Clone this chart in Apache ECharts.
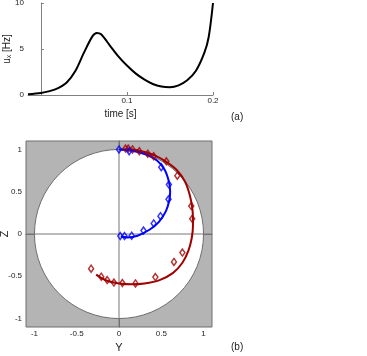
<!DOCTYPE html>
<html>
<head>
<meta charset="utf-8">
<script src="https://cdn.jsdelivr.net/npm/echarts@6/dist/echarts.min.js"></script>
<style>
  html, body { margin: 0; padding: 0; background: #fff; }
  #chart { width: 367px; height: 356px; }
</style>
</head>
<body>
<div id="chart"></div>
<script>
// panel (a): u_x over time
var timeVals = [-0.015, 0.0, 0.01, 0.02, 0.03, 0.04, 0.05, 0.06, 0.065, 0.07, 0.08, 0.09,
                0.10, 0.11, 0.12, 0.13, 0.14, 0.15, 0.16, 0.17, 0.18, 0.19, 0.195, 0.2];
var uxVals = [0.08, 0.22, 0.42, 0.75, 1.35, 2.6, 4.6, 6.4, 6.75, 6.6, 5.4, 4.2,
              3.2, 2.35, 1.7, 1.2, 0.92, 0.85, 1.05, 1.6, 2.6, 4.6, 6.3, 10.0];
var timeTicks = [0.1, 0.2];
var uxTicks = [0, 5, 10];

// panel (b): trajectories in the Y-Z plane
var blueLineY = [0, 0.16, 0.32, 0.45, 0.54, 0.59, 0.605, 0.595, 0.555, 0.47, 0.36, 0.22, 0.10, 0.02];
var blueLineZ = [1.0, 0.985, 0.94, 0.87, 0.76, 0.62, 0.50, 0.40, 0.27, 0.14, 0.05, -0.02, -0.04, -0.03];
var blueMarkY = [0, 0.12, 0.50, 0.59, 0.586, 0.49, 0.41, 0.29, 0.15, 0.065, 0.015];
var blueMarkZ = [1.0, 0.98, 0.79, 0.585, 0.41, 0.21, 0.125, 0.04, -0.02, -0.025, -0.025];

var redLineY = [0.03, 0.16, 0.28, 0.42, 0.55, 0.68, 0.78, 0.84, 0.87, 0.875, 0.86, 0.82, 0.75, 0.64,
                0.48, 0.30, 0.15, 0.0, -0.15, -0.27];
var redLineZ = [1.0, 1.0, 0.975, 0.93, 0.86, 0.76, 0.62, 0.45, 0.28, 0.10, -0.05, -0.20, -0.34, -0.46,
                -0.545, -0.585, -0.595, -0.585, -0.55, -0.48];
var redMarkY = [0.077, 0.11, 0.16, 0.24, 0.34, 0.41, 0.56, 0.69, 0.855, 0.866, 0.75, 0.65, 0.43,
                0.195, 0.04, -0.06, -0.14, -0.21, -0.33];
var redMarkZ = [1.01, 1.01, 1.0, 0.98, 0.95, 0.92, 0.86, 0.69, 0.33, 0.18, -0.22, -0.33, -0.51,
                -0.585, -0.58, -0.575, -0.545, -0.505, -0.41];
var unitTicks = [-1, -0.5, 0, 0.5, 1];

var BLUE = '#0000ff';
var RED = '#a00000';
var FONT = 'Liberation Sans';

function zip(a, b) {
    var out = [];
    for (var i = 0; i < a.length; i++) {
        out.push([a[i], b[i]]);
    }
    return out;
}

var tickLabel = { fontFamily: FONT, fontSize: 8, color: '#222' };

var chart = echarts.init(document.getElementById('chart'));
var option = {
    animation: false,
    title: [
        { text: '(a)', left: 226, top: 107, textStyle: { fontFamily: FONT, fontSize: 10, fontWeight: 'normal', color: '#222' } },
        { text: '(b)', left: 226, top: 337, textStyle: { fontFamily: FONT, fontSize: 10, fontWeight: 'normal', color: '#222' } }
    ],
    grid: [
        { left: 28, top: 3, width: 185, height: 92, outerBoundsMode: 'none', containLabel: false },
        { left: 26, top: 141, width: 186, height: 186, outerBoundsMode: 'none', containLabel: false,
          show: true, backgroundColor: '#b4b4b4', borderColor: '#6e6e6e', borderWidth: 1 }
    ],
    xAxis: [
        {
            gridIndex: 0, type: 'value', min: -0.015, max: 0.2,
            name: 'time [s]', nameLocation: 'middle', nameGap: 14, nameMoveOverlap: false,
            nameTextStyle: { fontFamily: FONT, fontSize: 10, color: '#222' },
            axisLine: { lineStyle: { color: '#808080' } },
            axisTick: { inside: true, length: 3, customValues: timeTicks, lineStyle: { color: '#808080' } },
            axisLabel: Object.assign({ margin: 2, customValues: timeTicks }, tickLabel),
            splitLine: { show: false }
        },
        {
            gridIndex: 1, type: 'value', min: -1.1, max: 1.1,
            name: 'Y', nameLocation: 'middle', nameGap: 15, nameMoveOverlap: false,
            nameTextStyle: { fontFamily: FONT, fontSize: 11, color: '#222' },
            axisLine: { lineStyle: { color: '#6e6e6e' } },
            axisTick: { inside: true, length: 3, customValues: unitTicks, lineStyle: { color: '#6e6e6e' } },
            axisLabel: Object.assign({ margin: 3, customValues: unitTicks }, tickLabel),
            splitLine: { show: false }
        }
    ],
    yAxis: [
        {
            gridIndex: 0, type: 'value', min: 0, max: 10,
            name: '{u|u}{s|x}{u| [Hz]}', nameLocation: 'middle', nameGap: 15, nameRotate: 90,
            nameMoveOverlap: false,
            nameTextStyle: {
                rich: {
                    u: { fontFamily: FONT, fontSize: 10, color: '#222' },
                    s: { fontFamily: FONT, fontSize: 7, color: '#222', verticalAlign: 'bottom', padding: [4, 0, 0, 0] }
                }
            },
            axisLine: { lineStyle: { color: '#808080' } },
            axisTick: { inside: true, length: 3, customValues: uxTicks, lineStyle: { color: '#808080' } },
            axisLabel: Object.assign({ margin: 4, customValues: uxTicks }, tickLabel),
            splitLine: { show: false }
        },
        {
            gridIndex: 1, type: 'value', min: -1.1, max: 1.1,
            name: 'Z', nameLocation: 'middle', nameGap: 16, nameRotate: 90, nameMoveOverlap: false,
            nameTextStyle: { fontFamily: FONT, fontSize: 11, color: '#222' },
            axisLine: { lineStyle: { color: '#6e6e6e' } },
            axisTick: { inside: true, length: 3, customValues: unitTicks, lineStyle: { color: '#6e6e6e' } },
            axisLabel: Object.assign({ margin: 4, customValues: unitTicks }, tickLabel),
            splitLine: { show: false }
        }
    ],
    series: [
        {
            type: 'line', xAxisIndex: 0, yAxisIndex: 0,
            data: zip(timeVals, uxVals), smooth: 0.3, showSymbol: false,
            lineStyle: { color: '#000', width: 2 }
        },
        {
            // unit circle and the crosshair through the origin
            type: 'custom', xAxisIndex: 1, yAxisIndex: 1, silent: true, z: 1,
            data: [[0, 0]],
            renderItem: function (params, api) {
                var c = api.coord([0, 0]);
                var r = api.size([1, 1]);
                var l = api.coord([-1.1, 0]), rr = api.coord([1.1, 0]);
                var b = api.coord([0, -1.1]), t = api.coord([0, 1.1]);
                return {
                    type: 'group',
                    children: [
                        { type: 'circle', shape: { cx: c[0], cy: c[1], r: r[0] },
                          style: { fill: '#fff', stroke: '#6e6e6e', lineWidth: 1 } },
                        { type: 'line', shape: { x1: l[0], y1: l[1], x2: rr[0], y2: rr[1] },
                          style: { stroke: '#777', lineWidth: 1 } },
                        { type: 'line', shape: { x1: b[0], y1: b[1], x2: t[0], y2: t[1] },
                          style: { stroke: '#777', lineWidth: 1 } }
                    ]
                };
            }
        },
        {
            type: 'line', xAxisIndex: 1, yAxisIndex: 1, z: 3,
            data: zip(redLineY, redLineZ), smooth: 0.3, showSymbol: false,
            lineStyle: { color: RED, width: 2 }
        },
        {
            type: 'line', xAxisIndex: 1, yAxisIndex: 1, z: 3,
            data: zip(blueLineY, blueLineZ), smooth: 0.3, showSymbol: false,
            lineStyle: { color: BLUE, width: 2 }
        },
        {
            type: 'scatter', xAxisIndex: 1, yAxisIndex: 1, z: 4,
            data: zip(redMarkY, redMarkZ), symbol: 'diamond', symbolSize: [5, 7],
            itemStyle: { color: 'rgba(255,255,255,0)', borderColor: RED, borderWidth: 1.5 }
        },
        {
            type: 'scatter', xAxisIndex: 1, yAxisIndex: 1, z: 4,
            data: zip(blueMarkY, blueMarkZ), symbol: 'diamond', symbolSize: [5, 7],
            itemStyle: { color: 'rgba(255,255,255,0)', borderColor: BLUE, borderWidth: 1.5 }
        }
    ]
};
chart.setOption(option);
</script>
</body>
</html>
